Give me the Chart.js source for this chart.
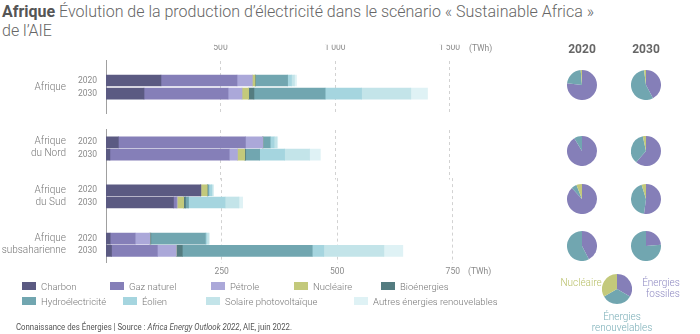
<!DOCTYPE html>
<html><head><meta charset="utf-8">
<script src="https://cdn.jsdelivr.net/npm/chart.js@4.4.1/dist/chart.umd.min.js"></script>
<style>
html,body{margin:0;padding:0;background:#fff;}
#wrap{position:relative;width:700px;height:334px;overflow:hidden;font-family:Roboto,"Noto Sans",sans-serif;}
#wrap canvas{position:absolute;}
.t{position:absolute;white-space:nowrap;}
</style></head><body><div id="wrap"></div>
<script>
// ---------- DATA ----------
const regionNames = ['Afrique', 'Afrique du Nord', 'Afrique du Sud', 'Afrique subsaharienne'];
const regionLines = [['Afrique'], ['Afrique', 'du Nord'], ['Afrique', 'du Sud'], ['Afrique', 'subsaharienne']];
const years = ['2020', '2030'];
const seriesNames = ['Charbon', 'Gaz naturel', 'Pétrole', 'Nucléaire', 'Bioénergies', 'Hydroélectricité', 'Éolien', 'Solaire photovoltaïque', 'Autres énergies renouvelables'];
// TWh, order: Afrique 2020, 2030 | Nord 2020, 2030 | Sud 2020, 2030 | Subsaharienne 2020, 2030
const charbon     = [240, 166,  54,  17, 205, 146,   9,  12];
const gazNaturel  = [332, 367, 555, 521,   0, 6.5,  54,  99];
const petrole     = [ 67,  61,  76,  36,   0, 1.5,  32,  41];
const nucleaire   = [ 12,  29,   0,  32,  14,  14,   0,   0];
const bioenergies = [  2,  23,   0,   4, 0.5,   4,   2,  13];
const hydro       = [140, 311,  32,  61,   3, 6.5, 118, 281];
const eolien      = [ 17, 159,  17, 109,   6,  79,   3,  25];
const solaire     = [ 13, 215,  12, 109,   3,  30,   4, 130];
const autres      = [  9,  73,   4,  47,   1,   8,   2,  41];
const topTicks = [500, 1000, 1500];   // Afrique, Afrique du Nord
const bottomTicks = [250, 500, 750];  // Afrique du Sud, Afrique subsaharienne
const pieCategories = ['Énergies fossiles', 'Énergies renouvelables', 'Nucléaire'];
const legendPieShares = [1, 1, 1];

// ---------- STYLE ----------
const series = [charbon, gazNaturel, petrole, nucleaire, bioenergies, hydro, eolien, solaire, autres];
const seriesColors = ['#5b5a82', '#857fb8', '#aba8d9', '#c3c97b', '#547c80', '#71a6b0', '#a5d5df', '#c3e4e9', '#dff2f5'];
const pieColors = ['#857fb8', '#71a6b0', '#c3c97b'];
const FONT = 'Roboto';
const wrap = document.getElementById('wrap');

function addText(html, css) {
  const d = document.createElement('div');
  d.className = 't';
  d.innerHTML = html;
  Object.assign(d.style, css);
  wrap.appendChild(d);
  return d;
}
function fmt(v) { return String(v).replace(/\B(?=(\d{3})+(?!\d))/g, ' '); }

// title
addText('<span style="font-weight:700;color:#555">Afrique</span> Évolution de la production d’électricité dans le scénario « Sustainable Africa »<br>de l’AIE',
  {left: '2px', top: '2px', fontSize: '16px', lineHeight: '19px', color: '#666', fontWeight: '300'});

// ---------- BAR CHARTS ----------
function barChart(regionIdx, cfg) {
  const cv = document.createElement('canvas');
  cv.width = 700; cv.height = 334;
  cv.style.left = '0px'; cv.style.top = '0px';
  wrap.appendChild(cv);
  const labels = cfg.labels;
  const datasets = series.map((arr, s) => ({
    label: seriesNames[s],
    data: labels.map(l => { const yi = years.indexOf(l); return yi < 0 ? null : arr[regionIdx * 2 + yi]; }),
    backgroundColor: seriesColors[s],
    borderWidth: 0,
    barThickness: 11
  }));
  const tickVals = cfg.ticks;
  new Chart(cv, {
    type: 'bar',
    data: {labels, datasets},
    options: {
      indexAxis: 'y', responsive: false, animation: false, devicePixelRatio: 1,
      layout: {padding: {left: 0, right: 700 - cfg.right, top: cfg.top - cfg.xTopH, bottom: 334 - cfg.bottom - cfg.xBotH}},
      plugins: {legend: {display: false}, tooltip: {enabled: false}},
      scales: {
        x: {
          stacked: true, position: cfg.xPos, min: 0, max: cfg.max,
          ticks: {display: cfg.showX, padding: cfg.xPad, color: '#8a8a8a', maxRotation: 0, autoSkip: false,
                  font: {family: FONT, size: 8.5}, callback: v => fmt(v)},
          afterBuildTicks: sc => { sc.ticks = tickVals.map(v => ({value: v})); },
          afterFit: sc => { sc.height = cfg.xTopH + cfg.xBotH; },
          grid: {color: '#d2d2d2', lineWidth: 1, drawTicks: false},
          border: {display: false, dash: [3, 3]}
        },
        y: {
          stacked: true, offset: cfg.offset,
          ticks: {color: '#8a8a8a', padding: 9, autoSkip: false, font: {family: FONT, size: 8.5}},
          grid: {display: false, drawTicks: false},
          border: {display: true, color: '#a0a0a0', width: 1},
          afterFit: sc => { sc.width = 106; }
        }
      }
    }
  });
}
barChart(0, {labels: ['', '2020', '2030', ''], offset: true, top: 60.7, bottom: 113.5, right: 472.4, max: 1600, ticks: topTicks,
  xPos: 'top', showX: true, xTopH: 16, xBotH: 0, xPad: 8});
barChart(1, {labels: ['', '2020', '2030', '', ''], offset: false, top: 129.9, bottom: 179.5, right: 472.4, max: 1600, ticks: topTicks,
  xPos: 'top', showX: false, xTopH: 0, xBotH: 0, xPad: 0});
barChart(2, {labels: ['', '2020', '2030', '', ''], offset: false, top: 178.1, bottom: 226.9, right: 475.9, max: 800, ticks: bottomTicks,
  xPos: 'bottom', showX: false, xTopH: 0, xBotH: 0, xPad: 0});
barChart(3, {labels: ['', '2020', '2030', ''], offset: false, top: 226.6, bottom: 262.9, right: 475.9, max: 800, ticks: bottomTicks,
  xPos: 'bottom', showX: true, xTopH: 0, xBotH: 16, xPad: 4});

addText('(TWh)', {left: '469px', top: '43px', fontSize: '8.5px', color: '#8a8a8a'});
addText('(TWh)', {left: '468px', top: '266px', fontSize: '8.5px', color: '#8a8a8a'});

// region labels
const regionCenters = [86.7, 147, 196, 244];
regionLines.forEach((lines, i) => {
  addText(lines.join('<br>'), {right: (700 - 66) + 'px', top: regionCenters[i] + 'px', transform: 'translateY(-50%)',
    textAlign: 'right', fontSize: '10px', lineHeight: '12px', color: '#777', fontWeight: '300'});
});

// ---------- PIES ----------
function pie(cx, cy, values, r) {
  const cv = document.createElement('canvas');
  cv.width = 2 * r; cv.height = 2 * r;
  cv.style.left = (cx - r) + 'px'; cv.style.top = (cy - r) + 'px';
  wrap.appendChild(cv);
  new Chart(cv, {
    type: 'pie',
    data: {labels: pieCategories, datasets: [{data: values, backgroundColor: pieColors, borderWidth: 0}]},
    options: {responsive: false, animation: false, devicePixelRatio: 1, layout: {padding: 0},
      plugins: {legend: {display: false}, tooltip: {enabled: false}}}
  });
}
const pieX = [582, 646];
const pieY = [85, 151, 199, 245.5];
years.forEach((y, j) => addText(y, {left: pieX[j] + 'px', top: '49px', transform: 'translate(-50%,-50%)', fontSize: '12px', fontWeight: '700', color: '#666'}));
regionNames.forEach((r, i) => {
  years.forEach((y, j) => {
    const k = i * 2 + j;
    const fossil = charbon[k] + gazNaturel[k] + petrole[k];
    const renew = bioenergies[k] + hydro[k] + eolien[k] + solaire[k] + autres[k];
    pie(pieX[j], pieY[i], [fossil, renew, nucleaire[k]], 15);
  });
});
pie(617, 289, legendPieShares, 15);
addText(pieCategories[2], {left: '581px', top: '282px', transform: 'translate(-50%,-50%)', fontSize: '10px', fontWeight: '300', color: '#b9c06a'});
addText('Énergies<br>fossiles', {left: '661px', top: '287.5px', transform: 'translate(-50%,-50%)', textAlign: 'right', fontSize: '10px', lineHeight: '11px', fontWeight: '300', color: '#8f8ac2'});
addText('Énergies<br>renouvelables', {left: '622px', top: '321.5px', transform: 'translate(-50%,-50%)', textAlign: 'center', fontSize: '10px', lineHeight: '11px', fontWeight: '300', color: '#7aaeb7'});

// ---------- LEGEND ----------
const legendPos = [[22, 287], [110, 287], [211, 287], [294, 287], [381, 287], [22, 302], [123, 302], [206, 302], [354, 302]];
seriesNames.forEach((n, s) => {
  const [x, y] = legendPos[s];
  addText('<span style="display:inline-block;width:14px;height:8px;background:' + seriesColors[s] + ';vertical-align:middle;margin-right:5px;position:relative;top:-1px"></span>' + n,
    {left: x + 'px', top: y + 'px', transform: 'translateY(-50%)', fontSize: '9.5px', lineHeight: '12px', color: '#777', fontWeight: '300'});
});

// footer
addText('Connaissance des Énergies | Source : <i>Africa Energy Outlook 2022</i>, AIE, juin 2022.',
  {left: '16px', top: '327px', transform: 'translateY(-50%) scaleX(0.92)', transformOrigin: 'left center', fontSize: '8.5px', color: '#555'});
</script></body></html>
